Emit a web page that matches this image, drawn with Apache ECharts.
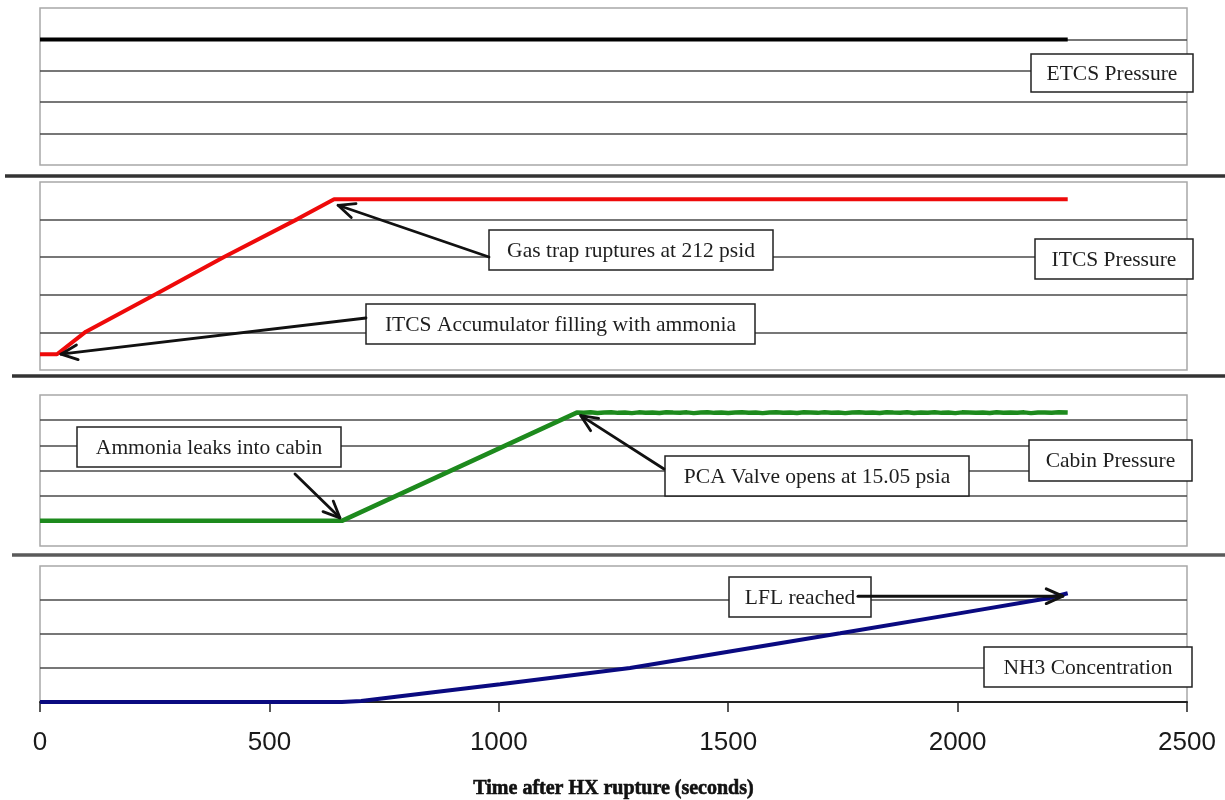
<!DOCTYPE html>
<html><head><meta charset="utf-8">
<script src="https://cdn.jsdelivr.net/npm/echarts@6/dist/echarts.min.js"></script>
<style>html,body{margin:0;padding:0;background:#fff}#c{width:1225px;height:800px}</style>
</head><body><div id="c"></div>
<script>
// ---- data ----
const xTicks = [0, 500, 1000, 1500, 2000, 2500];
const xTitle = 'Time after HX rupture (seconds)';

const etcsTime  = [0, 500, 1000, 1500, 2000, 2240];
const etcsValue = [4, 4, 4, 4, 4, 4];

const itcsTime  = [0, 37, 100, 253, 400, 562, 641, 1000, 1500, 2000, 2240];
const itcsValue = [21, 21, 51, 101, 150, 201, 227, 227, 227, 227, 227];

const cabinTime  = [0, 300, 658, 1170,
  1185, 1200, 1215, 1230, 1245, 1260, 1275, 1290, 1305, 1320, 1335, 1350, 1365, 1380, 1395,
  1410, 1425, 1440, 1455, 1470, 1485, 1500, 1515, 1530, 1545, 1560, 1575, 1590, 1605, 1620,
  1635, 1650, 1665, 1680, 1695, 1710, 1725, 1740, 1755, 1770, 1785, 1800, 1815, 1830, 1845,
  1860, 1875, 1890, 1905, 1920, 1935, 1950, 1965, 1980, 1995, 2010, 2025, 2040, 2055, 2070,
  2085, 2100, 2115, 2130, 2145, 2160, 2175, 2190, 2205, 2220, 2240];
const cabinValue = [14.2, 14.2, 14.2, 15.06,
  15.058, 15.062, 15.057, 15.061, 15.063, 15.058, 15.06, 15.056, 15.062, 15.059, 15.061, 15.057, 15.063, 15.06, 15.058,
  15.062, 15.056, 15.06, 15.063, 15.058, 15.061, 15.057, 15.06, 15.062, 15.058, 15.061, 15.056, 15.06, 15.063, 15.059,
  15.061, 15.057, 15.062, 15.06, 15.058, 15.063, 15.059, 15.061, 15.056, 15.06, 15.062, 15.058, 15.061, 15.057, 15.063,
  15.06, 15.058, 15.062, 15.057, 15.061, 15.059, 15.063, 15.058, 15.06, 15.056, 15.062, 15.06, 15.058, 15.061, 15.057,
  15.063, 15.059, 15.061, 15.058, 15.062, 15.056, 15.06, 15.061, 15.058, 15.062, 15.06];

const nh3Time  = [0, 658, 700, 785, 1003, 1286, 1500, 1744, 2000, 2197, 2240];
const nh3Value = [0, 0, 0.03, 0.17, 0.52, 1.0, 1.48, 2.02, 2.6, 3.05, 3.2];

const panelLabels = ['ETCS Pressure', 'ITCS Pressure', 'Cabin Pressure', 'NH3 Concentration'];

function pairs(t, v) { return t.map((x, i) => [x, v[i]]); }

// ---- layout ----
const L = 40, R = 38;
const grids = [
  { left: L, right: R, top: 8,   height: 157 },
  { left: L, right: R, top: 182, height: 188 },
  { left: L, right: R, top: 395, height: 151 },
  { left: L, right: R, top: 566, height: 136 }
].map(g => Object.assign(g, { show: true, borderColor: '#a8a8a8', borderWidth: 1.5, backgroundColor: '#fff', containLabel: false, outerBoundsMode: 'none' }));

const splitLine = { show: true, showMinLine: false, showMaxLine: false, lineStyle: { color: '#4a4a4a', width: 1.5 } };
const yRanges = [[0, 5, 1], [0, 250, 50], [14, 15.2, 0.2], [0, 4, 1]];
const yAxis = yRanges.map((r, i) => ({
  type: 'value', gridIndex: i, min: r[0], max: r[1], interval: r[2],
  axisLine: { show: false }, axisTick: { show: false }, axisLabel: { show: false }, splitLine
}));
const xAxis = [0, 1, 2, 3].map(i => ({
  type: 'value', gridIndex: i, min: xTicks[0], max: xTicks[xTicks.length - 1], interval: xTicks[1] - xTicks[0],
  splitLine: { show: false },
  axisLine: { show: i === 3, onZero: false, lineStyle: { color: '#222', width: 2 } },
  axisTick: { show: i === 3, length: 10, lineStyle: { color: '#222', width: 1.5 } },
  axisLabel: { show: i === 3, fontSize: 26, fontFamily: 'Liberation Sans', color: '#1a1a1a', margin: 28,
               formatter: v => String(v) },
  name: i === 3 ? xTitle : '', nameLocation: 'middle', nameGap: 77,
  nameTextStyle: { fontFamily: 'Liberation Serif', fontWeight: 'bold', fontSize: 20, color: '#111',
                   textBorderColor: '#111', textBorderWidth: 0.6 }
}));

const mk = (i, data, color, w) => ({
  type: 'line', xAxisIndex: i, yAxisIndex: i, data, showSymbol: false, symbol: 'none',
  lineStyle: { color, width: w || 4 }, itemStyle: { color }, animation: false, z: 3
});

const chart = echarts.init(document.getElementById('c'), null, { renderer: 'canvas' });
chart.setOption({
  animation: false,
  grid: grids, xAxis, yAxis,
  series: [
    mk(0, pairs(etcsTime, etcsValue), '#000000'),
    mk(1, pairs(itcsTime, itcsValue), '#ee0a0a'),
    mk(2, pairs(cabinTime, cabinValue), '#1d8a1d', 4.5),
    mk(3, pairs(nh3Time, nh3Value), '#0a0a80')
  ]
});

// ---- annotations ----
const px = (i, p) => chart.convertToPixel({ gridIndex: i }, p);
const G = [];
const FONT = '21.5px "Liberation Serif"';
function box(x, y, w, h, text) {
  G.push({ type: 'rect', z: 100, shape: { x, y, width: w, height: h }, style: { fill: '#fff', stroke: '#222', lineWidth: 1.5 } });
  G.push({ type: 'text', z: 101, style: { text, x: x + w / 2, y: y + h / 2 + 1, align: 'center', verticalAlign: 'middle', font: FONT, fill: '#1e1e1e' } });
}
function arrow(x1, y1, x2, y2, w) {
  const a = Math.atan2(y2 - y1, x2 - x1), len = 18, sp = 0.42;
  const st = { stroke: '#111', lineWidth: w || 2.8, lineCap: 'round', lineJoin: 'round' };
  G.push({ type: 'line', z: 102, shape: { x1, y1, x2, y2 }, style: st });
  G.push({ type: 'polyline', z: 102, shape: { points: [
    [x2 - len * Math.cos(a - sp), y2 - len * Math.sin(a - sp)], [x2, y2],
    [x2 - len * Math.cos(a + sp), y2 - len * Math.sin(a + sp)]] }, style: st });
}
function sep(x1, x2, y, color) {
  G.push({ type: 'line', z: 99, shape: { x1, y1: y, x2, y2: y }, style: { stroke: color, lineWidth: 3.5 } });
}
sep(5, 1225, 176, '#333');
sep(12, 1225, 376, '#333');
sep(12, 1225, 555, '#5a5a5a');

box(1031, 54, 162, 38, panelLabels[0]);
box(1035, 239, 158, 40, panelLabels[1]);
box(1029, 440, 163, 41, panelLabels[2]);
box(984, 647, 208, 40, panelLabels[3]);

box(489, 230, 284, 40, 'Gas trap ruptures at 212 psid');
box(366, 304, 389, 40, 'ITCS Accumulator filling with ammonia');
box(77, 427, 264, 40, 'Ammonia leaks into cabin');
box(665, 456, 304, 40, 'PCA Valve opens at 15.05 psia');
box(729, 577, 142, 40, 'LFL reached');

let p = px(1, [itcsTime[6], itcsValue[6]]);
arrow(489, 257, p[0] + 4, p[1] + 6);
p = px(1, [itcsTime[1], itcsValue[1]]);
arrow(366, 318, p[0] + 4, p[1]);
p = px(2, [cabinTime[2], cabinValue[2]]);
arrow(295, 474, p[0] - 2, p[1] - 3);
p = px(2, [cabinTime[3], cabinValue[3]]);
arrow(664, 469, p[0] + 4, p[1] + 3);
p = px(3, [nh3Time[10], nh3Value[10]]);
arrow(858, p[1] + 3, p[0] - 5, p[1] + 3, 3);

chart.setOption({ graphic: { elements: G } });
</script>
</body></html>
